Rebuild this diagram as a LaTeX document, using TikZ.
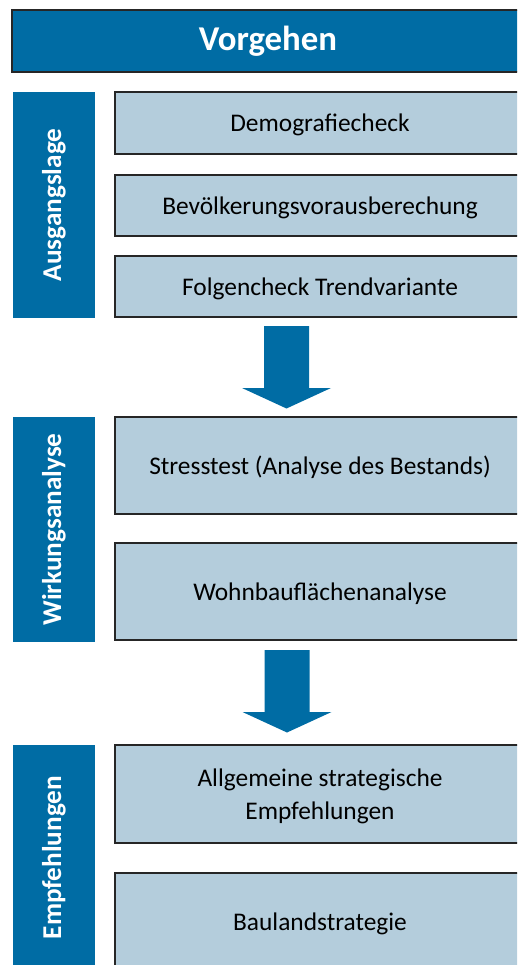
\documentclass[tikz,border=0pt]{standalone}
\usepackage{fontspec}
\setmainfont{Carlito}
\usetikzlibrary{positioning, calc}
\definecolor{vgblue}{HTML}{006CA4}
\definecolor{vglight}{HTML}{B4CDDC}
\tikzset{
    headbox/.style={
        rectangle, draw=black!85, fill=vgblue, line width=1.2pt,
        minimum width=512pt, minimum height=62pt, outer sep=0pt,
        text=white, font=\fontsize{34.8}{40}\selectfont\bfseries
    },
    phase/.style={
        rectangle, fill=vgblue, minimum width=82pt, inner sep=0pt, outer sep=0pt,
        text=white, font=\fontsize{27.2}{32}\selectfont\bfseries
    },
    stepbox/.style={
        rectangle, draw=black!85, fill=vglight, line width=1.2pt,
        minimum width=410pt, outer sep=0pt, align=center, text depth=0pt,
        font=\fontsize{25.4}{32.5}\selectfont
    },
    flow/.style={fill=vgblue}
}
\begin{document}
\begin{tikzpicture}[x=1pt, y=1pt, node distance=21pt]
    \useasboundingbox (0,0) rectangle (517,-965);
    \clip (0,0) rectangle (517,-965);

    \node[headbox] (head) at (268,-41) {Vorgehen};

    % Ausgangslage
    \node[stepbox, minimum height=62pt, anchor=north west] (demo) at (115,-92) {Demografiecheck};
    \node[stepbox, minimum height=61pt, below=of demo] (bev) {Bevölkerungsvorausberechung};
    \node[stepbox, minimum height=61pt, below=20pt of bev] (folg) {Folgencheck Trendvariante};
    \node[phase, minimum height=226pt, anchor=north east] (ausg) at ($(demo.north west)+(-20,0)$) {\rotatebox{90}{Ausgangslage}};

    % Wirkungsanalyse
    \node[stepbox, minimum height=97pt, below=100pt of folg] (stress) {Stresstest (Analyse des Bestands)};
    \node[stepbox, minimum height=97pt, below=29pt of stress] (wohn) {Wohnbauflächenanalyse};
    \node[phase, minimum height=225pt, anchor=north east] (wirk) at ($(stress.north west)+(-20,0)$) {\rotatebox{90}{Wirkungsanalyse}};

    % Empfehlungen
    \node[stepbox, minimum height=98pt, below=105pt of wohn] (allg) {Allgemeine strategische\\Empfehlungen};
    \node[stepbox, minimum height=97pt, below=30pt of allg] (bau) {Baulandstrategie};
    \node[phase, minimum height=225pt, anchor=north east] (empf) at ($(allg.north west)+(-20,0)$) {\rotatebox{90}{Empfehlungen}};

    % block arrows between the phases
    \coordinate (a1) at ($(folg.south)+(-33.5,-9)$);
    \coordinate (a2) at ($(wohn.south)+(-33,-10)$);
    \foreach \a in {a1, a2}
        \fill[flow] (\a) ++(-22.5,0) -- ++(45,0) -- ++(0,-62) -- ++(22,0)
            -- ++(-44.5,-20.5) -- ++(-44.5,20.5) -- ++(22,0) -- cycle;
\end{tikzpicture}
\end{document}
